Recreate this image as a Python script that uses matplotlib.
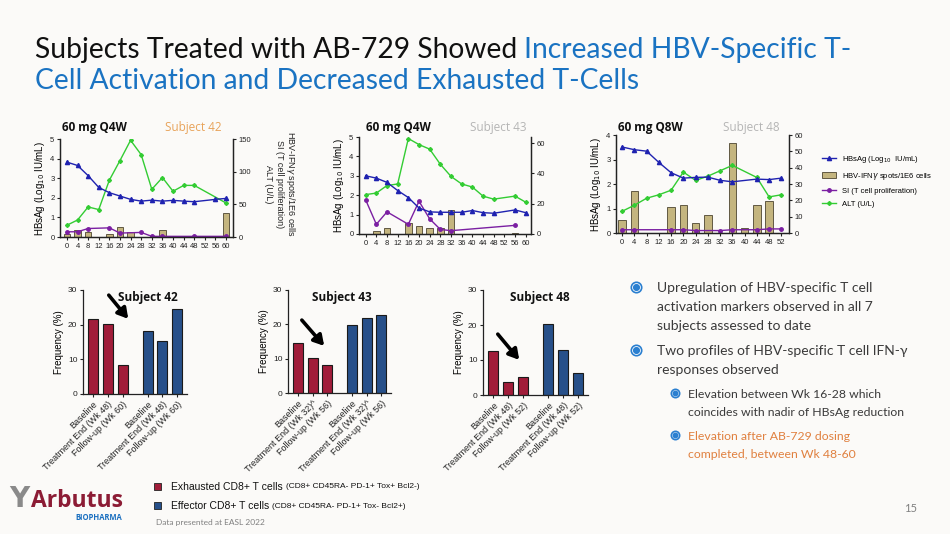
import matplotlib.pyplot as plt
from matplotlib.lines import Line2D
from matplotlib.patches import Patch

# ---- top panels: weeks and values ----
s42_hbsag_wk = [0, 4, 8, 12, 16, 20, 24, 28, 32, 36, 40, 44, 48, 56, 60]
s42_hbsag = [3.82, 3.65, 3.13, 2.53, 2.26, 2.09, 1.92, 1.83, 1.88, 1.83, 1.87, 1.83, 1.80, 1.92, 1.97]
s42_alt_wk = [0, 4, 8, 12, 16, 20, 24, 28, 32, 36, 40, 44, 48, 60]
s42_alt = [18, 26, 46, 42, 87, 117, 148, 126, 73, 91, 70, 79, 79, 52]
s42_si_wk = [0, 4, 8, 16, 20, 28, 32, 36, 48, 60]
s42_si = [8, 8, 13, 14, 6, 7, 1, 1, 1, 1]
s42_ifn_wk = [0, 4, 8, 16, 20, 24, 36, 52, 60]
s42_ifn = [5, 10, 7, 5, 16, 7, 10, 2, 37]

s43_hbsag_wk = [0, 4, 8, 12, 16, 20, 24, 28, 32, 36, 40, 44, 48, 56, 60]
s43_hbsag = [3.0, 2.88, 2.66, 2.24, 1.88, 1.34, 1.14, 1.12, 1.12, 1.12, 1.21, 1.10, 1.07, 1.24, 1.10]
s43_alt_wk = [0, 4, 8, 12, 16, 20, 24, 28, 32, 36, 40, 44, 48, 56, 60]
s43_alt = [26, 27, 32, 33, 63, 59, 56, 46, 38, 33, 31, 25, 23, 25, 21]
s43_si_wk = [0, 4, 8, 16, 20, 24, 28, 32, 56]
s43_si = [22.5, 6.4, 14.6, 6.4, 21.6, 10, 3, 2.2, 5.7]
s43_ifn_wk = [4, 8, 16, 20, 24, 28, 32, 56]
s43_ifn = [1.8, 3.8, 7.5, 5, 4, 3.8, 16, 0.9]

s48_hbsag_wk = [0, 4, 8, 12, 16, 20, 24, 28, 32, 36, 44, 48, 52]
s48_hbsag = [3.51, 3.40, 3.34, 2.88, 2.46, 2.24, 2.27, 2.28, 2.15, 2.09, 2.2, 2.18, 2.24]
s48_alt_wk = [0, 4, 8, 12, 16, 20, 24, 28, 32, 36, 44, 48, 52]
s48_alt = [13.3, 17, 21.3, 23.4, 26.2, 37.3, 32.2, 34.8, 38.1, 41.4, 34, 22.1, 23.4]
s48_si_wk = [0, 4, 16, 20, 24, 32, 36, 44, 48, 52]
s48_si = [2, 2, 2, 2, 1.5, 1.5, 2, 2, 2.5, 2.5]
s48_ifn_wk = [0, 4, 16, 20, 24, 28, 36, 40, 44, 48]
s48_ifn = [8.2, 26, 16, 17, 6, 11, 55, 3, 17, 19.3]

# ---- bottom panels: frequency (%) ----
s42_exhausted = [21.7, 20.1, 8.5]
s42_effector = [18.3, 15.3, 24.6]
s42_labels = ["Baseline", "Treatment End (Wk 48)", "Follow-up (Wk 60)"]
s43_exhausted = [14.6, 10.1, 8.2]
s43_effector = [19.8, 21.7, 22.8]
s43_labels = ["Baseline", "Treatment End (Wk 32)^", "Follow-up (Wk 56)"]
s48_exhausted = [12.5, 3.8, 5.1]
s48_effector = [20.2, 13.0, 6.4]
s48_labels = ["Baseline", "Treatment End (Wk 48)", "Follow-up (Wk 52)"]

BLUE = "#1f22b0"
GREEN = "#33cc33"
PURPLE = "#7b1fa2"
TAN = "#c4b57f"
RED = "#a11d3a"
NAVY = "#27508a"
TITLE_BLUE = "#1a73c2"
CHART_FONT = "Liberation Sans"
TEXT_FONT = "Lato"

fig = plt.figure(figsize=(9.5, 5.34), dpi=100, facecolor="#fbfaf8")


def px_axes(l, t, r, b):
    return fig.add_axes([l / 950, 1 - b / 534, (r - l) / 950, (b - t) / 534])


bg = px_axes(0, 0, 950, 534)
bg.set_xlim(0, 950)
bg.set_ylim(534, 0)
bg.axis("off")


def top_panel(box, xlim, xticks, yl, ytl, yr, ytr, hb, alt, si, ifn):
    ax = px_axes(*box)
    ax2 = ax.twinx()
    ax2.bar(ifn[0], ifn[1], width=2.4, color=TAN, edgecolor="#4d4530", lw=0.6)
    ax2.plot(alt[0], alt[1], color=GREEN, marker="D", ms=2, lw=1)
    ax2.plot(si[0], si[1], color=PURPLE, marker="o", ms=2.5, lw=1)
    ax.plot(hb[0], hb[1], color=BLUE, marker="^", ms=3, lw=1)
    ax.set_zorder(ax2.get_zorder() + 1)
    ax.patch.set_visible(False)
    ax.set_xlim(*xlim)
    ax.set_ylim(*yl)
    ax.set_yticks(ytl)
    ax2.set_ylim(*yr)
    ax2.set_yticks(ytr)
    ax.set_xticks(xticks)
    for a in (ax, ax2):
        a.spines["top"].set_visible(False)
        for s in a.spines.values():
            s.set_linewidth(0.9)
            s.set_color("#222222")
        a.tick_params(labelsize=5.5, length=2.5, width=0.8, pad=1.5, colors="#222222")
        for lab in a.get_xticklabels() + a.get_yticklabels():
            lab.set_family(CHART_FONT)
    ax.set_ylabel("HBsAg (Log$_{10}$ IU/mL)", fontsize=7, family=CHART_FONT, labelpad=2)
    return ax, ax2


ax42, ax42r = top_panel((60, 139, 233, 237), (-2.6, 62.6), range(0, 61, 4), (0, 5), range(0, 6),
                        (0, 150), [0, 50, 100, 150],
                        (s42_hbsag_wk, s42_hbsag), (s42_alt_wk, s42_alt),
                        (s42_si_wk, s42_si), (s42_ifn_wk, s42_ifn))
ax43, ax43r = top_panel((359, 137, 531, 234), (-2.5, 62), range(0, 61, 4), (0, 5), range(0, 6),
                        (0, 64), [0, 20, 40, 60],
                        (s43_hbsag_wk, s43_hbsag), (s43_alt_wk, s43_alt),
                        (s43_si_wk, s43_si), (s43_ifn_wk, s43_ifn))
ax48, ax48r = top_panel((616, 135, 789, 233), (-2, 54.5), range(0, 53, 4), (0, 4), range(0, 5),
                        (0, 60), range(0, 61, 10),
                        (s48_hbsag_wk, s48_hbsag), (s48_alt_wk, s48_alt),
                        (s48_si_wk, s48_si), (s48_ifn_wk, s48_ifn))

# right axis label for subject 42
for x, s in [(290, "HBV-IFN$\\gamma$ spots/1E6 cells"), (279.5, "SI (T cell proliferation)"), (269, "ALT (U/L)")]:
    bg.text(x, 184, s, rotation=-90, ha="center", va="center", fontsize=6.5, family=CHART_FONT, color="#222222")

# panel headings
for x1, x2, dose, subj, col in [(62, 165, "60 mg Q4W", "Subject 42", "#e8a35a"),
                                (366, 470, "60 mg Q4W", "Subject 43", "#b5b5b5"),
                                (618, 723, "60 mg Q8W", "Subject 48", "#b5b5b5")]:
    bg.text(x1, 128, dose, fontsize=8.5, fontweight="bold", family="Open Sans", va="center", color="#111111")
    bg.text(x2, 128, subj, fontsize=8.5, family="Open Sans", va="center", color=col)

# legend for top panels
handles = [Line2D([], [], color=BLUE, marker="^", ms=3, lw=1),
           Patch(facecolor=TAN, edgecolor="#4d4530", lw=0.6),
           Line2D([], [], color=PURPLE, marker="o", ms=2.5, lw=1),
           Line2D([], [], color=GREEN, marker="D", ms=2, lw=1)]
names = ["HBsAg (Log$_{10}$  IU/mL)", "HBV-IFN$\\gamma$ spots/1E6 cells",
         "SI (T cell proliferation)", "ALT (U/L)"]
fig.legend(handles, names, loc="upper left", bbox_to_anchor=(818 / 950, 1 - 150 / 534), frameon=False,
           prop={"family": CHART_FONT, "size": 5.5}, handlelength=1.8, handletextpad=0.8,
           labelspacing=0.75, borderpad=0)


def bottom_panel(box, red, blue, labels, title, title_x, arrow):
    ax = px_axes(*box)
    xr = [0, 1, 2]
    xb = [3.72, 4.72, 5.72]
    ax.bar(xr, red, width=0.68, color=RED, edgecolor="#1a1a1a", lw=0.8)
    ax.bar(xb, blue, width=0.68, color=NAVY, edgecolor="#1a1a1a", lw=0.8)
    ax.set_xlim(-0.7, 6.4)
    ax.set_ylim(0, 30)
    ax.set_yticks([0, 10, 20, 30])
    ax.set_xticks(xr + xb)
    ax.set_xticklabels(labels + labels, rotation=45, ha="right", rotation_mode="anchor")
    ax.patch.set_visible(False)
    for s in ("top", "right"):
        ax.spines[s].set_visible(False)
    for s in ("left", "bottom"):
        ax.spines[s].set_linewidth(0.9)
        ax.spines[s].set_color("#222222")
    ax.tick_params(axis="y", labelsize=6)
    ax.tick_params(axis="x", labelsize=6.5)
    ax.tick_params(length=2.5, width=0.8, pad=1.5, colors="#222222")
    for lab in ax.get_xticklabels() + ax.get_yticklabels():
        lab.set_family(CHART_FONT)
    ax.set_ylabel("Frequency (%)", fontsize=7, family=CHART_FONT, labelpad=3)
    bg.text(title_x, 297, title, fontsize=8.5, fontweight="bold", family="Open Sans",
            ha="center", va="center", color="#111111")
    bg.annotate("", xy=arrow[1], xytext=arrow[0],
                arrowprops=dict(arrowstyle="-|>,head_length=0.6,head_width=0.35", lw=2.6, color="black"))
    return ax


bottom_panel((83, 290, 187, 394), s42_exhausted, s42_effector, s42_labels, "Subject 42", 148,
             ((107, 293), (130, 321)))
bottom_panel((288, 290, 391, 393), s43_exhausted, s43_effector, s43_labels, "Subject 43", 342,
             ((300, 318), (326, 348)))
bottom_panel((483, 290, 588, 395), s48_exhausted, s48_effector, s48_labels, "Subject 48", 540,
             ((496, 332), (521, 362)))

# title
t1 = bg.text(35, 58, "Subjects Treated with AB-729 Showed ", fontsize=20.3, family=TEXT_FONT,
             color="#111111", va="baseline")
bg.annotate("Increased HBV-Specific T-", xy=(1, 0), xycoords=t1, va="bottom", ha="left",
            fontsize=20.3, family=TEXT_FONT, color=TITLE_BLUE)
bg.text(35, 89, "Cell Activation and Decreased Exhausted T-Cells", fontsize=20.3, family=TEXT_FONT,
        color=TITLE_BLUE, va="baseline")

# bullets
GREY = "#3a3a3a"
main_lines = [(288, "Upregulation of HBV-specific T cell"), (307, "activation markers observed in all 7"),
              (326, "subjects assessed to date"), (351, "Two profiles of HBV-specific T cell IFN-\u03b3"),
              (370, "responses observed")]
for y, s in main_lines:
    bg.text(657, y, s, fontsize=10, family=TEXT_FONT, color=GREY, va="center")
sub_lines = [(394, "Elevation between Wk 16-28 which", GREY), (412, "coincides with nadir of HBsAg reduction", GREY),
             (436, "Elevation after AB-729 dosing", "#e0803f"), (454, "completed, between Wk 48-60", "#e0803f")]
for y, s, c in sub_lines:
    bg.text(688, y, s, fontsize=8.8, family=TEXT_FONT, color=c, va="center")
for x, y, ms in [(636, 287, 7.5), (636, 350, 7.5), (675, 393, 6), (675, 435, 6)]:
    bg.plot(x, y, marker="o", ms=ms, mfc="white", mec="#2a7fd0", mew=1.2)
    bg.plot(x, y, marker="o", ms=ms * 0.55, mfc="#2a7fd0", mec="#2a7fd0")

# bottom legend
bg.add_patch(plt.Rectangle((154, 483), 7, 7, facecolor=RED, edgecolor="#222222", lw=0.6))
bg.add_patch(plt.Rectangle((154, 502), 7, 7, facecolor=NAVY, edgecolor="#222222", lw=0.6))
e1 = bg.text(171, 487, "Exhausted CD8+ T cells ", fontsize=7.5, family=CHART_FONT, color="#111111", va="center")
bg.annotate("(CD8+ CD45RA- PD-1+ Tox+ Bcl2-)", xy=(1, 0.5), xycoords=e1, va="center", fontsize=6,
            family=CHART_FONT, color="#111111")
e2 = bg.text(171, 506, "Effector CD8+ T cells ", fontsize=7.5, family=CHART_FONT, color="#111111", va="center")
bg.annotate("(CD8+ CD45RA- PD-1+ Tox- Bcl2+)", xy=(1, 0.5), xycoords=e2, va="center", fontsize=6,
            family=CHART_FONT, color="#111111")
bg.text(156, 523, "Data presented at EASL 2022", fontsize=6, family=TEXT_FONT, color="#808080", va="center")
bg.text(917, 509, "15", fontsize=8, family=TEXT_FONT, color="#808080", va="center", ha="right")

# logo
bg.text(9, 499, "Y", fontsize=20, fontweight="bold", family="DejaVu Sans", color="#8a8a8a", va="center")
bg.text(31, 501, "Arbutus", fontsize=16.5, fontweight="bold", family="Open Sans", color="#8c1c35", va="center")
bg.text(122, 518, "BIOPHARMA", fontsize=5.5, fontweight="bold", family="Open Sans", color="#1a6fc0",
        va="center", ha="right")

fig.savefig("out.png", dpi=100, facecolor=fig.get_facecolor())
